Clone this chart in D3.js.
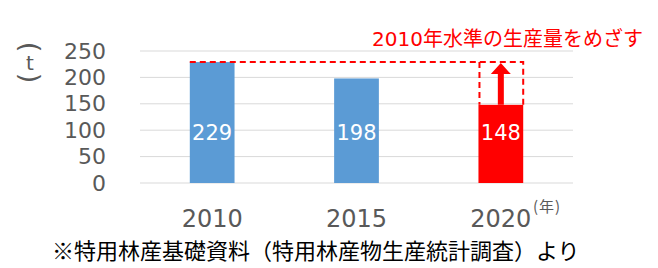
<!DOCTYPE html>
<html>
<head>
<meta charset="utf-8">
<script src="https://cdn.jsdelivr.net/npm/d3@7"></script>
<style>
  html, body { margin: 0; padding: 0; background: #fff; }
  svg { display: block; }
</style>
</head>
<body>
<div id="chart"></div>
<script>
// データ
const years = ["2010", "2015", "2020"];
const values = [229, 198, 148];
const barColors = ["#5B9BD5", "#5B9BD5", "#FF0000"];
const yTicks = [0, 50, 100, 150, 200, 250];
const targetValue = 229; // 2010年水準
const goalText = "2010年水準の生産量をめざす";
const unitLabel = "t";
const yearUnit = "(年)";
const sourceText = "※特用林産基礎資料（特用林産物生産統計調査）より";

const W = 658, H = 268;
const latin = "'DejaVu Sans', 'Noto Sans CJK JP', sans-serif";
const cjk = "'Noto Sans CJK JP', sans-serif";

const svg = d3.select("#chart").append("svg")
  .attr("width", W).attr("height", H);

// スケール
const x = d3.scaleBand().domain(years).range([140, 573])
  .paddingInner(0.69).paddingOuter(0.345);
const y = d3.scaleLinear().domain([0, 250]).range([183, 51]);

// グリッド線
svg.append("g").selectAll("line").data(yTicks).join("line")
  .attr("x1", 140).attr("x2", 573)
  .attr("y1", d => y(d)).attr("y2", d => y(d))
  .attr("stroke", "#d9d9d9").attr("stroke-width", 1);

// Y軸ラベル
const yAxis = svg.append("g").attr("transform", "translate(106,0)")
  .call(d3.axisLeft(y).tickValues(yTicks).tickSize(0).tickPadding(0));
yAxis.select(".domain").remove();
yAxis.selectAll("text")
  .attr("font-family", latin).attr("font-size", 22).attr("fill", "#595959");

// 単位（t）縦書き：括弧を90度回して上下に置く
const unit = svg.append("g").attr("fill", "#595959").attr("text-anchor", "middle");
unit.append("text").attr("transform", "translate(30,47) rotate(90)")
  .attr("dominant-baseline", "central")
  .attr("font-family", "'DejaVu Sans'").attr("font-size", 27).text("(");
unit.append("text").attr("x", 30).attr("y", 70)
  .attr("font-family", latin).attr("font-size", 20).text(unitLabel);
unit.append("text").attr("transform", "translate(30,78) rotate(90)")
  .attr("dominant-baseline", "central")
  .attr("font-family", "'DejaVu Sans'").attr("font-size", 27).text(")");

// 棒
const data = years.map((yr, i) => ({ year: yr, value: values[i], color: barColors[i] }));
svg.append("g").selectAll("rect").data(data).join("rect")
  .attr("x", d => x(d.year)).attr("width", x.bandwidth())
  .attr("y", d => y(d.value)).attr("height", d => y(0) - y(d.value))
  .attr("fill", d => d.color);

// 値ラベル
svg.append("g").selectAll("text").data(data).join("text")
  .attr("x", d => x(d.year) + x.bandwidth() / 2)
  .attr("y", 132).attr("dy", "0.36em")
  .attr("text-anchor", "middle")
  .attr("font-family", latin).attr("font-size", 21).attr("fill", "#fff")
  .text(d => d.value);

// X軸ラベル
svg.append("g").selectAll("text").data(years).join("text")
  .attr("x", d => x(d) + x.bandwidth() / 2).attr("y", 227)
  .attr("text-anchor", "middle")
  .attr("font-family", latin).attr("font-size", 24).attr("fill", "#595959")
  .text(d => d);
svg.append("text").attr("x", 533).attr("y", 212)
  .attr("font-family", cjk).attr("font-size", 15).attr("fill", "#595959")
  .attr("letter-spacing", 1)
  .text(yearUnit);

// 目標ライン（破線）
const last = years[years.length - 1];
const x0 = x(years[0]);
const xl = x(last), xr = x(last) + x.bandwidth();
const yT = y(targetValue), yB = y(values[values.length - 1]);
const dashed = svg.append("g").attr("fill", "none").attr("stroke", "#FF0000")
  .attr("stroke-width", 2).attr("stroke-dasharray", "6,4");
dashed.append("path").attr("d", `M${x0},${yT}H${xr}V${yB}`);
dashed.append("path").attr("d", `M${xl + 1},${yT}V${yB}`);

// 矢印
const cx = xl + x.bandwidth() / 2;
const arrow = d3.path();
arrow.moveTo(cx - 3, yB);
arrow.lineTo(cx - 3, yT + 12);
arrow.lineTo(cx - 10, yT + 12);
arrow.lineTo(cx, yT + 1);
arrow.lineTo(cx + 10, yT + 12);
arrow.lineTo(cx + 3, yT + 12);
arrow.lineTo(cx + 3, yB);
arrow.closePath();
svg.append("path").attr("d", arrow.toString()).attr("fill", "#FF0000");

// 注記
svg.append("text").attr("x", 643).attr("y", 46).attr("text-anchor", "end")
  .attr("font-family", latin).attr("font-size", 20).attr("fill", "#FF0000")
  .text(goalText);

// 出典
svg.append("text").attr("x", 52).attr("y", 259)
  .attr("font-family", cjk).attr("font-size", 22).attr("fill", "#000")
  .text(sourceText);
</script>
</body>
</html>
